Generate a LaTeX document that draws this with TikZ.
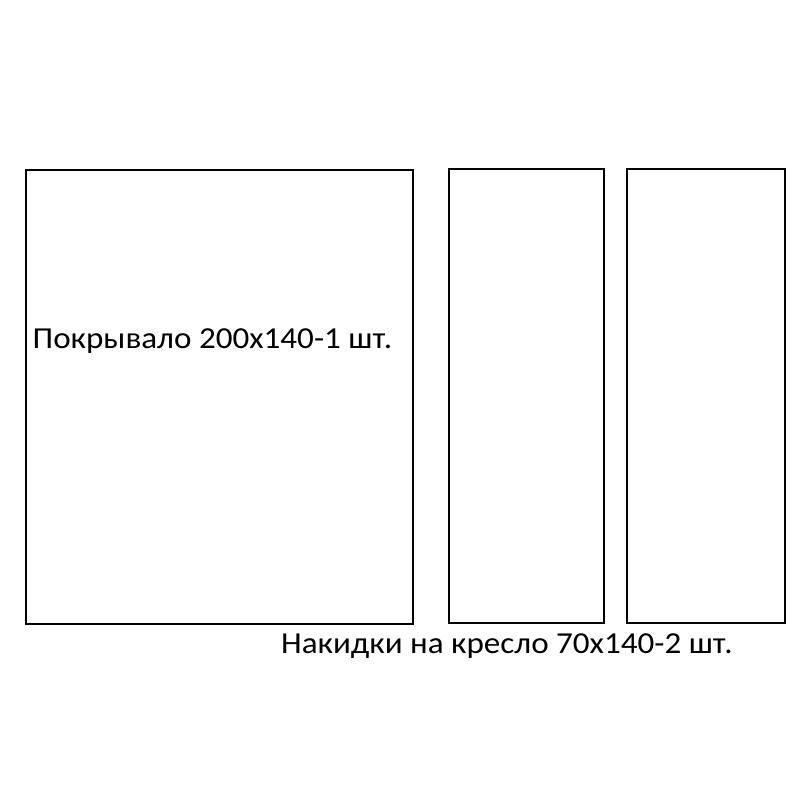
\documentclass[tikz,border=0pt]{standalone}
\usepackage{fontspec}
\setmainfont{Carlito}
\begin{document}
\begin{tikzpicture}[x=1pt,y=-1pt,
  piece/.style={draw=black,line width=2pt},
  lbl/.style={anchor=base west,inner sep=0pt,xscale=1.085,transform shape,font=\fontsize{30.5}{34}\selectfont}]
\useasboundingbox (0,0) rectangle (800,800);
\draw[piece] (25.5,169.5) rectangle (412.5,624);
\draw[piece] (449,168.5) rectangle (603.5,623);
\draw[piece] (627,168.5) rectangle (784.5,622.5);
\node[lbl] (t1) at (32.5,348.7) {Покрывало 200x140-1 шт.};
\node[lbl] (t2) at (281,653.3) {Накидки на кресло 70x140-2 шт.};
\end{tikzpicture}
\end{document}
